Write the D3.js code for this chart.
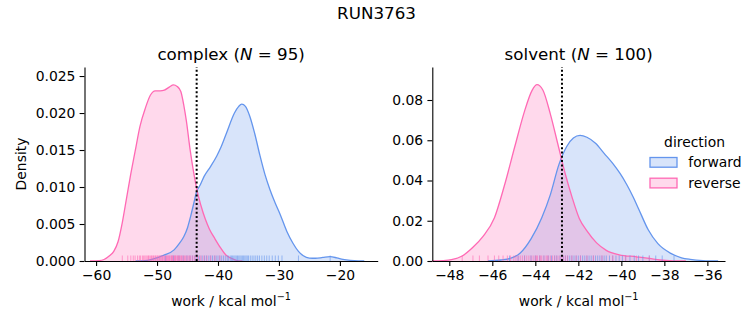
<!DOCTYPE html>
<html>
<head>
<meta charset="utf-8">
<script src="https://cdn.jsdelivr.net/npm/d3@7"></script>
<style>
  html, body { margin: 0; padding: 0; background: #fff; }
  svg { display: block; }
  text { font-family: "DejaVu Sans", sans-serif; fill: #000; }
</style>
</head>
<body>
<svg id="chart" width="753" height="325"></svg>
<script>
// ---------------- DATA ----------------
const figureTitle = "RUN3763";
const directions = ["forward", "reverse"];
const panelNames = ["complex", "solvent"];
const panelN = [95, 100];

// KDE curves: [work, density]
const complexForwardKde = [
  [-53.5, 0], [-52.0, 0.00005], [-51.0, 0.0002], [-49.8, 0.0005], [-48.85, 0.0008],
  [-47.2, 0.0015], [-46.3, 0.0024], [-45.6, 0.0033], [-45.0, 0.0045], [-44.5, 0.0060],
  [-44.0, 0.0077], [-43.5, 0.0094], [-42.9, 0.0103], [-42.3, 0.0114], [-41.2, 0.0128],
  [-40.2, 0.0142], [-39.5, 0.0154], [-38.6, 0.0173], [-37.3, 0.0200], [-36.6, 0.0209],
  [-36.1, 0.0212], [-35.5, 0.0209], [-34.8, 0.0196], [-34.0, 0.0173], [-33.1, 0.0142],
  [-32.3, 0.0117], [-31.5, 0.0097], [-30.6, 0.0078], [-29.8, 0.0063], [-28.7, 0.0040],
  [-27.7, 0.0024], [-26.8, 0.0013], [-26.0, 0.0007], [-25.0, 0.0004], [-24.0, 0.00037],
  [-22.8, 0.00048], [-21.6, 0.00058], [-20.5, 0.00042], [-19.5, 0.00022], [-18.3, 0.00008],
  [-17.0, 0.00001], [-16.0, 0]
];
const complexReverseKde = [
  [-61.0, 0], [-59.5, 0.00005], [-58.7, 0.0002], [-57.8, 0.0007], [-57.1, 0.0013],
  [-56.4, 0.0026], [-55.7, 0.0052], [-55.0, 0.0085], [-54.3, 0.0118], [-53.6, 0.0148],
  [-52.8, 0.0182], [-51.9, 0.0207], [-51.1, 0.0224], [-50.3, 0.0230], [-49.5, 0.0230],
  [-48.8, 0.0231], [-48.0, 0.0235], [-47.3, 0.0238], [-46.7, 0.0236], [-46.1, 0.0229],
  [-45.6, 0.0210], [-45.2, 0.0190], [-44.6, 0.0152], [-44.0, 0.0120], [-43.4, 0.0094],
  [-42.8, 0.0075], [-42.1, 0.0057], [-41.4, 0.0043], [-40.5, 0.0030], [-39.6, 0.0018],
  [-38.7, 0.0008], [-37.9, 0.0004], [-37.0, 0.0001], [-36.0, 0]
];
const solventForwardKde = [
  [-46.2, 0], [-45.6, 0.0005], [-45.1, 0.0015], [-44.7, 0.0040], [-44.2, 0.0110],
  [-43.7, 0.0215], [-43.3, 0.0330], [-42.9, 0.0480], [-42.54, 0.0569], [-42.23, 0.0611],
  [-41.92, 0.0624], [-41.6, 0.0615], [-41.2, 0.0585], [-40.8, 0.0535], [-40.4, 0.0485],
  [-40.06, 0.0435], [-39.75, 0.0380], [-39.45, 0.0318], [-39.2, 0.0260], [-38.75, 0.0155],
  [-38.3, 0.0086], [-37.7, 0.0038], [-37.2, 0.0016], [-36.8, 0.0008], [-36.2, 0.0002],
  [-35.5, 0]
];
const solventReverseKde = [
  [-48.8, 0], [-48.3, 0.0002], [-47.9, 0.0007], [-47.4, 0.0025], [-46.9, 0.0068],
  [-46.45, 0.0120], [-45.9, 0.0215], [-45.45, 0.0370], [-44.95, 0.0570], [-44.5, 0.0745],
  [-44.15, 0.0848], [-43.92, 0.0876], [-43.65, 0.0850], [-43.3, 0.0730], [-42.95, 0.0580],
  [-42.6, 0.0430], [-42.3, 0.0320], [-41.95, 0.0210], [-41.6, 0.0150], [-41.15, 0.0090],
  [-40.7, 0.0053], [-40.1, 0.0031], [-39.3, 0.0021], [-38.7, 0.0013], [-38.2, 0.0005],
  [-37.6, 0.0001], [-37.0, 0]
];

// Rug samples (work values)
const complexForwardWork = [-48.6, -47.3, -46.4, -45.7, -45.1, -44.6, -44.2, -43.8, -43.4, -43.0,
  -42.6, -42.2, -41.9, -41.5, -41.2, -40.9, -40.6, -40.3, -40.0, -39.7, -39.4, -39.1, -38.8,
  -38.5, -38.3, -38.0, -37.8, -37.6, -37.4, -37.2, -37.0, -36.8, -36.6, -36.4, -36.2, -36.0,
  -35.8, -35.6, -35.4, -35.2, -35.0, -34.7, -34.4, -34.1, -33.8, -33.5, -33.2, -32.8, -32.4,
  -32.0, -31.6, -31.1, -30.6, -30.1, -29.5, -26.8, -21.6];
const complexReverseWork = [-55.7, -54.8, -54.3, -53.9, -53.6, -53.2, -52.9, -52.7, -52.4, -52.2,
  -52.0, -51.8, -51.6, -51.4, -51.3, -51.1, -50.9, -50.8, -50.6, -50.5, -50.3, -50.2, -50.0,
  -49.9, -49.7, -49.6, -49.4, -49.3, -49.1, -49.0, -48.8, -48.7, -48.5, -48.4, -48.3, -48.1,
  -48.0, -47.9, -47.7, -47.6, -47.5, -47.4, -47.2, -47.1, -47.0, -46.9, -46.7, -46.6, -46.5,
  -46.3, -46.2, -46.0, -45.9, -45.7, -45.5, -45.3, -45.1, -44.9, -44.7, -44.5, -44.2, -43.9,
  -43.6, -43.2, -42.8, -42.3, -41.8, -41.2, -40.5, -39.7];
const solventForwardWork = [-45.2, -44.8, -44.5, -44.2, -44.0, -43.8, -43.6, -43.4, -43.25, -43.1,
  -43.0, -42.85, -42.7, -42.6, -42.5, -42.4, -42.3, -42.2, -42.1, -42.0, -41.9, -41.8, -41.7,
  -41.6, -41.5, -41.4, -41.3, -41.2, -41.1, -41.0, -40.9, -40.8, -40.7, -40.55, -40.4, -40.25,
  -40.1, -39.95, -39.8, -39.6, -39.4, -39.2, -39.0, -38.7, -38.4, -38.1, -37.55];
const solventReverseWork = [-47.4, -46.9, -46.6, -46.2, -45.9, -45.7, -45.5, -45.3, -45.15, -45.0,
  -44.9, -44.8, -44.7, -44.6, -44.5, -44.4, -44.3, -44.2, -44.1, -44.0, -43.95, -43.9, -43.8,
  -43.75, -43.7, -43.6, -43.5, -43.45, -43.4, -43.3, -43.2, -43.1, -43.0, -42.9, -42.8, -42.7,
  -42.6, -42.5, -42.3, -42.1, -41.9, -41.6, -41.3, -40.9, -40.4, -39.8, -39.3, -38.7];

// Free energy estimate (dotted line) per panel
const panelEstimate = [-43.5, -42.76];

// Tick values
const complexXTicks = [-60, -50, -40, -30, -20];
const complexYTicks = [0, 0.005, 0.010, 0.015, 0.020, 0.025];
const solventXTicks = [-48, -46, -44, -42, -40, -38, -36];
const solventYTicks = [0, 0.02, 0.04, 0.06, 0.08];

// ---------------- LAYOUT / STYLE ----------------
const colors = { forward: "#6495ED", reverse: "#FF69B4" };
const panels = [
  { name: panelNames[0], n: panelN[0], xDomain: [-61.9, -13.8], yDomain: [0, 0.02622],
    x0: 84.5, x1: 377.7, xTicks: complexXTicks, yTicks: complexYTicks, yFmt: ".3f",
    kde: { forward: complexForwardKde, reverse: complexReverseKde },
    rug: { forward: complexForwardWork, reverse: complexReverseWork },
    est: panelEstimate[0], ylabel: true },
  { name: panelNames[1], n: panelN[1], xDomain: [-48.79, -35.18], yDomain: [0, 0.0964],
    x0: 432.3, x1: 725, xTicks: solventXTicks, yTicks: solventYTicks, yFmt: ".2f",
    kde: { forward: solventForwardKde, reverse: solventReverseKde },
    rug: { forward: solventForwardWork, reverse: solventReverseWork },
    est: panelEstimate[1], ylabel: false }
];
const yTop = 67, yBot = 261;
const tickFont = 13.9;

const svg = d3.select("#chart");

svg.append("text").attr("x", 376.5).attr("y", 18.5).attr("text-anchor", "middle")
  .style("font-size", "16.7px").text(figureTitle);

panels.forEach(p => {
  const x = d3.scaleLinear().domain(p.xDomain).range([p.x0, p.x1]);
  const y = d3.scaleLinear().domain(p.yDomain).range([yBot, yTop]);
  const g = svg.append("g");

  const area = d3.area().x(d => x(d[0])).y0(y(0)).y1(d => y(d[1])).curve(d3.curveMonotoneX);
  const line = d3.line().x(d => x(d[0])).y(d => y(d[1])).curve(d3.curveMonotoneX);

  directions.forEach(dir => {
    g.append("path").datum(p.kde[dir]).attr("d", area)
      .attr("fill", colors[dir]).attr("fill-opacity", 0.25).attr("stroke", "none");
  });
  directions.forEach(dir => {
    g.append("path").datum(p.kde[dir]).attr("d", line)
      .attr("fill", "none").attr("stroke", colors[dir]).attr("stroke-width", 1.3);
  });
  // rug
  directions.forEach(dir => {
    g.selectAll(null).data(p.rug[dir]).enter().append("line")
      .attr("x1", d => x(d)).attr("x2", d => x(d))
      .attr("y1", yBot).attr("y2", yBot - 5.5)
      .attr("stroke", colors[dir]).attr("stroke-opacity", 0.6).attr("stroke-width", 1);
  });
  // dotted estimate line
  g.append("line").attr("x1", x(p.est)).attr("x2", x(p.est))
    .attr("y1", yBot).attr("y2", yTop)
    .attr("stroke", "#000").attr("stroke-width", 2).attr("stroke-dasharray", "2,2.3");

  // axes
  const xAxis = d3.axisBottom(x).tickValues(p.xTicks).tickSize(4.9).tickPadding(4.2)
    .tickSizeOuter(0).tickFormat(d3.format("d"));
  const yAxis = d3.axisLeft(y).tickValues(p.yTicks).tickSize(4.9).tickPadding(4.2)
    .tickSizeOuter(0).tickFormat(d3.format(p.yFmt));
  const gx = g.append("g").attr("transform", `translate(0,${yBot})`).call(xAxis);
  const gy = g.append("g").attr("transform", `translate(${p.x0},0)`).call(yAxis);
  [gx, gy].forEach(a => {
    a.selectAll("text").style("font-size", tickFont + "px").style("font-family", "DejaVu Sans");
    a.selectAll("line").attr("stroke", "#000").attr("stroke-width", 1.1);
    a.select(".domain").attr("stroke", "#000").attr("stroke-width", 1.1);
  });

  // title
  const cx = (p.x0 + p.x1) / 2;
  const t = svg.append("text").attr("x", cx).attr("y", 60).attr("text-anchor", "middle")
    .style("font-size", "16.7px");
  t.append("tspan").text(p.name + " (");
  t.append("tspan").style("font-style", "italic").text("N");
  t.append("tspan").text(" = " + p.n + ")");

  // x label
  const xl = svg.append("text").attr("x", cx).attr("y", 305.5).attr("text-anchor", "middle")
    .style("font-size", tickFont + "px");
  xl.append("tspan").text("work / kcal mol");
  xl.append("tspan").attr("dy", -5.5).style("font-size", "9.7px").text("\u22121");

  if (p.ylabel) {
    svg.append("text").attr("transform", `translate(26,${(yTop + yBot) / 2}) rotate(-90)`)
      .attr("text-anchor", "middle").style("font-size", tickFont + "px").text("Density");
  }
});

// legend
const lg = svg.append("g");
lg.append("text").attr("x", 694.5).attr("y", 146.5).attr("text-anchor", "middle")
  .style("font-size", tickFont + "px").text("direction");
directions.forEach((dir, i) => {
  const yy = 157.5 + i * 20.7;
  lg.append("rect").attr("x", 650).attr("y", yy).attr("width", 27).attr("height", 9.7)
    .attr("fill", colors[dir]).attr("fill-opacity", 0.25)
    .attr("stroke", colors[dir]).attr("stroke-width", 1.3);
  lg.append("text").attr("x", 688.3).attr("y", yy + 9.5)
    .style("font-size", tickFont + "px").text(dir);
});
</script>
</body>
</html>
